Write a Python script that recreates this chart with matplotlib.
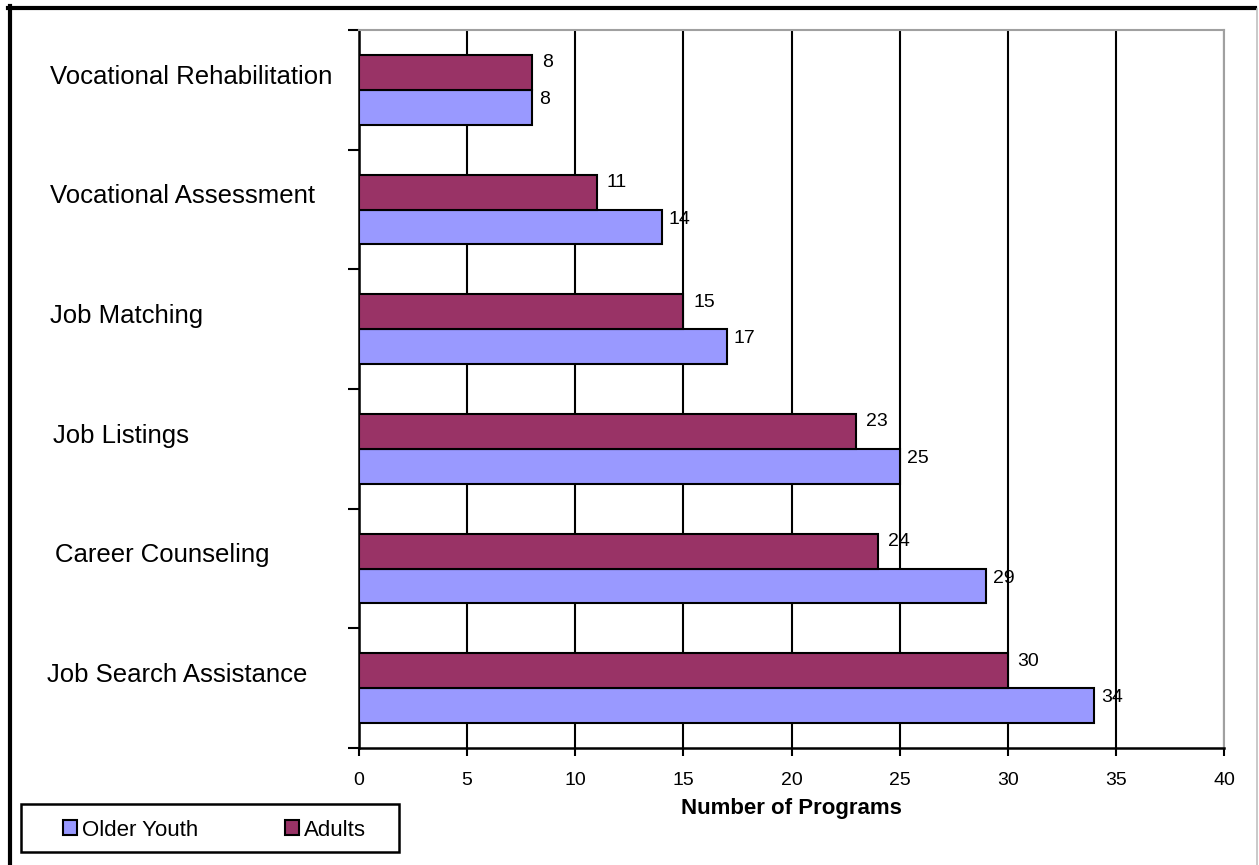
import numpy as np
import matplotlib.pyplot as plt
from matplotlib.lines import Line2D
from matplotlib.patches import Patch, Rectangle
from matplotlib.transforms import blended_transform_factory

categories = ['Job Search Assistance', 'Career Counseling', 'Job Listings',
              'Job Matching', 'Vocational Assessment', 'Vocational Rehabilitation']
older_youth = [34, 29, 25, 17, 14, 8]
adults = [30, 24, 23, 15, 11, 8]
x_ticks = [0, 5, 10, 15, 20, 25, 30, 35, 40]

youth_color = '#9999FF'
adult_color = '#993366'

plt.rcParams['font.family'] = ['Liberation Sans', 'DejaVu Sans']

fig = plt.figure(figsize=(12.59, 8.65), dpi=100)
ax = fig.add_axes([359 / 1259, 117 / 865, 865 / 1259, 718 / 865])

y = np.arange(len(categories))
h = 0.29

# bars: adults above, older youth below within each group
ax.barh(y - h / 2, older_youth, height=h, color=youth_color,
        edgecolor='black', linewidth=1.5, zorder=3)
ax.barh(y + h / 2, adults, height=h, color=adult_color,
        edgecolor='black', linewidth=1.5, zorder=3)

# value labels
for i in range(len(categories)):
    ax.annotate(str(older_youth[i]), (older_youth[i], y[i] - h / 2),
                xytext=(5, 5.5), textcoords='offset points',
                ha='left', va='center', fontsize=14, zorder=4)
    ax.annotate(str(adults[i]), (adults[i], y[i] + h / 2),
                xytext=(7, 7), textcoords='offset points',
                ha='left', va='center', fontsize=14, zorder=4)

ax.set_xlim(0, 40)
ax.set_ylim(-0.5, len(categories) - 0.5)
ax.set_xticks(x_ticks)
ax.set_xticklabels([str(t) for t in x_ticks], fontsize=14)
ax.tick_params(axis='x', direction='out', length=6, width=1.5, pad=11)

# y ticks at group boundaries, no labels
ax.set_yticks(np.arange(-0.5, len(categories), 1.0))
ax.set_yticklabels([])
ax.tick_params(axis='y', direction='out', length=8, width=1.5)

ax.xaxis.grid(True, color='black', linewidth=1.5, zorder=0)
ax.set_axisbelow(True)

for side in ['left', 'bottom']:
    ax.spines[side].set_linewidth(1.8)
    ax.spines[side].set_color('black')
for side in ['top', 'right']:
    ax.spines[side].set_linewidth(1.5)
    ax.spines[side].set_color('#a0a0a0')

ax.set_xlabel('Number of Programs', fontsize=16, fontweight='bold', labelpad=7)

# category names, left aligned in the margin
label_tf = blended_transform_factory(fig.transFigure, ax.transData)
label_x = [47, 55, 53, 50, 50, 50]
for i, name in enumerate(categories):
    ax.text(label_x[i] / 1259, y[i] + 0.11, name, transform=label_tf,
            fontsize=18.5, ha='left', va='center')

# legend with a plain rectangular frame
fig.add_artist(Rectangle((21 / 1259, 13 / 865), 378 / 1259, 48 / 865,
                         transform=fig.transFigure, facecolor='white',
                         edgecolor='black', linewidth=1.8))
handles = [Patch(facecolor=youth_color, edgecolor='black', linewidth=1.5, label='Older Youth'),
           Patch(facecolor=adult_color, edgecolor='black', linewidth=1.5, label='Adults')]
fig.legend(handles=handles, loc='center left', ncol=2,
           bbox_to_anchor=(63 / 1259, 35 / 865),
           fontsize=16, frameon=False,
           handlelength=0.65, handleheight=0.65, handletextpad=0.2,
           borderaxespad=0, borderpad=0, columnspacing=3.9)

# outer chart frame
fig.add_artist(Line2D([8 / 1259, 1255 / 1259], [1 - 7.5 / 865, 1 - 7.5 / 865],
                      transform=fig.transFigure, color='black', linewidth=3))
fig.add_artist(Line2D([9.5 / 1259, 9.5 / 1259], [0, 1 - 6 / 865],
                      transform=fig.transFigure, color='black', linewidth=3))
fig.add_artist(Line2D([1257 / 1259, 1257 / 1259], [0, 1 - 9 / 865],
                      transform=fig.transFigure, color='#c0c0c0', linewidth=1.2))

fig.savefig('out.png', dpi=100)
